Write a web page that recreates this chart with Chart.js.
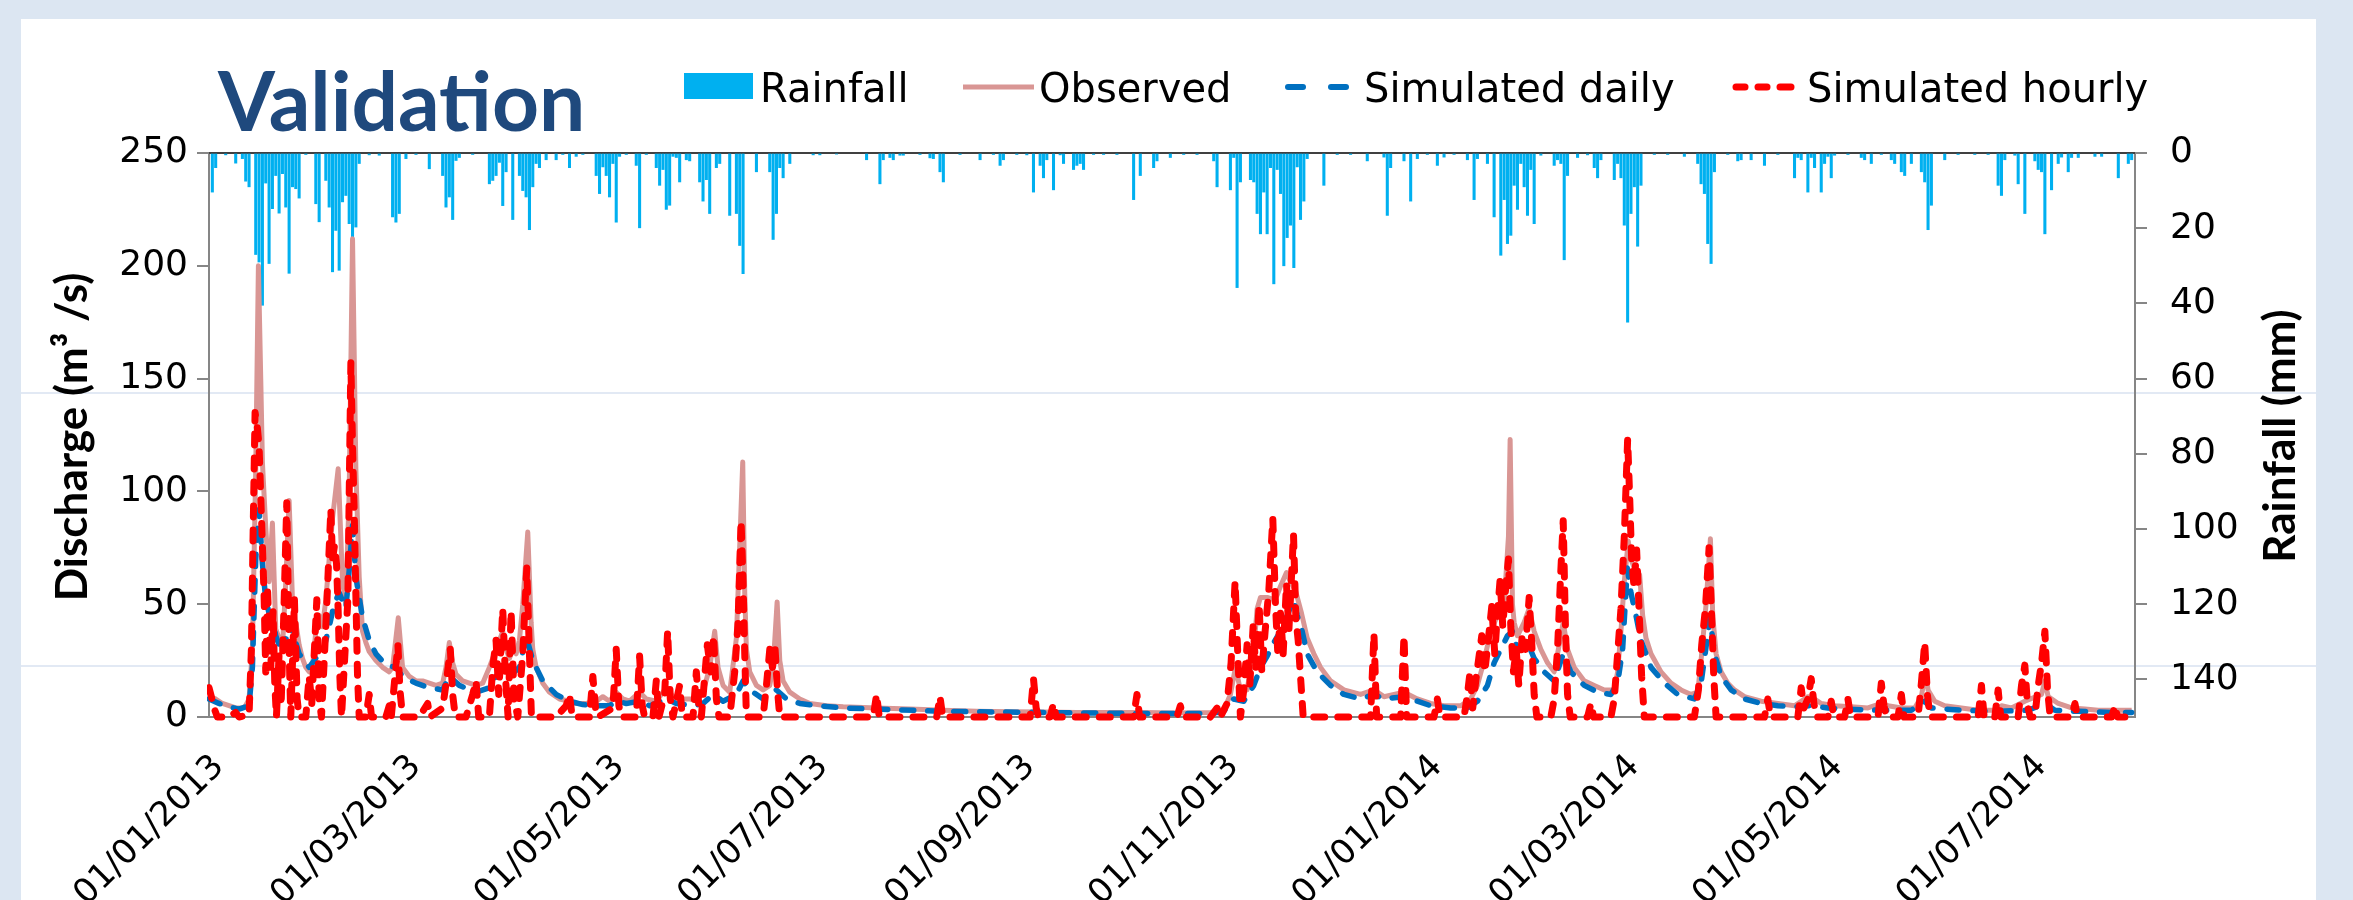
<!DOCTYPE html>
<html>
<head>
<meta charset="utf-8">
<script src="https://cdn.jsdelivr.net/npm/chart.js@4.4.1/dist/chart.umd.min.js"></script>
<style>
html,body{margin:0;padding:0;background:#dce6f2;overflow:hidden;}
#wrap{position:absolute;left:0;top:0;width:2353px;height:900px;}
</style>
</head>
<body>
<div id="wrap"><canvas id="c" width="2353" height="900"></canvas></div>
<script>
// ---------- DATA (day index from 01/01/2013) ----------
const chartTitle = 'Validation';
const seriesLabels = ['Rainfall', 'Observed', 'Simulated daily', 'Simulated hourly'];
const leftAxisTitle = 'Discharge (m\u00B3 /s)';
const rightAxisTitle = 'Rainfall (mm)';
const xTickDays = [0, 59, 120, 181, 243, 304, 365, 424, 485, 546];
const xTickLabels = ['01/01/2013','01/03/2013','01/05/2013','01/07/2013','01/09/2013','01/11/2013','01/01/2014','01/03/2014','01/05/2014','01/07/2014'];
const leftTicks = [0, 50, 100, 150, 200, 250];
const rightTicks = [0, 20, 40, 60, 80, 100, 120, 140];
const xMaxDay = 577;

// daily rainfall [day, mm]
const rainfall = [
[1,10.4],[2,3.9],[5,0.5],[8,2.7],[10,1.5],[11,7.5],[12,9],[14,27],[15,29],[16,40.5],[17,8],[18,29.4],[19,14.8],[20,6],[21,16],[22,5.5],[23,14.4],[24,32],[25,9],[26,9.5],[27,12],[29,0.4],
[32,13.5],[33,18.3],[35,7.3],[36,14.4],[37,31.6],[38,20.6],[39,31.2],[40,13],[41,11.3],[42,18.8],[43,22.3],[44,19.7],[45,2.8],[48,0.5],[51,0.6],
[55,17],[56,18.4],[57,16.1],[59,1.5],[62,0.4],[66,4.2],[70,6],[71,14.4],[72,11.7],[73,17.7],[74,2],[75,1.2],[79,0.4],
[84,8.2],[85,7.3],[86,6],[87,2.5],[88,14],[89,5],[91,17.7],[93,6],[94,10],[95,11.7],[96,20.4],
[97,9],[98,2.8],[99,3.9],[101,1.8],[104,1.8],[106,0.4],[108,3.9],[110,0.9],[112,0.4],[116,6],[117,10.8],[118,3.7],[119,6],[120,11.7],[121,2.8],[122,18.4],[123,0.9],[125,0.4],[128,3.3],[129,19.9],[131,0.4],[134,3.9],[135,8.6],[136,4.4],[137,15],[138,13.9],[139,0.9],[140,1.2],[141,7.7],[143,1.8],[144,2.1],[147,7.7],[148,12.8],[149,7.1],[150,16.1],[152,3.9],[153,2.8],[156,16.6],[158,16.1],[159,24.6],[160,32.1],[164,5],[168,5],[169,23],[170,16.1],[171,3.9],[172,6.6],[174,2.8],[181,0.5],[183,0.5],[188,0.3],
[197,1.8],[201,8.2],[202,1.8],[204,1.2],[205,1.8],[207,0.6],[208,0.6],[213,0.4],[216,1.3],[217,1.5],[219,5],[220,7.7],[225,0.4],[231,1.8],[235,0.4],[237,3.3],[238,1.8],[242,0.4],[245,0.5],[247,10.4],[249,3.3],[250,6.6],[251,1.8],[253,9.8],[255,0.5],[256,2.8],[259,4.4],[260,3.3],[261,2.8],[262,4.4],[265,0.4],[268,0.4],[272,0.4],[277,12.4],[279,6],[283,3.9],[284,2.1],[288,1.2],[292,0.4],[296,0.4],
[301,2.1],[302,9],[306,9.8],[307,1.2],[308,35.8],[309,7.7],[312,7.1],[313,7.7],[314,16.1],[315,21.5],[316,10.4],[317,21.5],[318,3.9],[319,34.8],[320,4.4],[321,10.8],[322,30],[323,22.5],[324,19.2],[325,30.5],[326,3.7],[327,17.7],[328,12.8],[329,1.5],[334,8.6],[338,0.4],[342,0.4],[347,2.1],[352,1.1],[353,16.6],[354,3.9],[358,2.1],[360,12.8],[362,1.5],[365,0.4],[368,3.3],[370,1.1],[373,0.4],[377,1.8],[379,12.4],[380,1.5],[383,2.8],
[385,17],[387,27.2],[388,12.4],[389,24.1],[390,21.9],[391,8.6],[392,15],[393,2.8],[394,9],[395,16.6],[396,4.4],[397,18.8],[399,0.6],[403,3.3],[404,1.8],[405,2.8],[406,28.4],[407,6],[410,1.2],[413,0.5],[415,3.9],[416,6.6],[417,1.8],[421,7.1],[422,2.8],[423,6.6],[424,19.2],[425,45],[426,16.1],[427,9],[428,24.8],[429,8.6],[433,0.4],[437,0.4],[442,0.9],[446,2.8],[447,8.2],[448,10.8],[449,24.1],[450,29.4],[451,5],[455,0.4],[458,2.1],[459,1.8],[462,1.8],[466,3.3],[470,0.4],[475,6.6],[476,1.2],[477,1.8],[479,10.4],
[480,1.2],[481,3.9],[483,10.4],[484,2.8],[485,0.9],[486,6.6],[487,0.6],[491,0.4],[495,1.2],[496,1.8],[498,2.8],[501,0.4],[504,1.8],[505,2.8],[507,5],[508,6],[510,2.8],[513,5],[514,7.7],[515,20.4],[516,13.9],[520,1.8],[524,0.4],[529,0.4],[533,0.4],[536,8.6],[537,11.3],[538,1.8],[541,0.6],[542,8.2],[544,16.1],[547,2.1],[548,4.4],[549,5],[550,21.5],[552,9.8],[554,2.8],[555,1.1],[557,5],[558,1.2],[560,1.2],[565,0.9],[567,0.9],[572,6.6],[575,2.8],[576,1.8]
];

// observed discharge [day, m3/s]
const observed = [
[0,9],[2,8],[4,6],[6,5],[8,4],[10,4],[11,5],[12,8],[13,30],[14,110],[14.8,200],[15.5,150],[16,113],[17,84],[18,60],[19,86],[20,39],[21,35],[22,30],[23,60],[24,96],[25,52],[26,42],[27,32],[28,26],[29,22],[30,20],[31,22],[32,38],[33,45],[34,40],[35,52],[36,70],[37,88],[38.7,110],[40,60],[41,50],[42,100],[43,212],[44,110],[45,62],[46,38],[47,33],[48,29],[50,25],[52,22],[54,20],[55,22],[56.7,44],[58,22],[60,18],[62,16],[64,16],[66,15],[68,14],[70,15],[71,22],[72,33],[73,24],[74,19],[76,16],[78,15],[80,14],[82,15],[84,22],[86,30],[88,38],[89,30],[90,26],[91,30],[92,28],[93,34],[94,50],[95.5,82],[96.5,42],[97,30],[98,22],[100,15],[102,11],[105,8],[108,7],[110,6],[113,6],[116,7],[118,9],[120,7],[122,11],[124,8],[126,7],[129,11],[131,8],[134,7],[137,13],[139,9],[141,8],[144,8],[146,7],[148,11],[150,22],[151.5,38],[152.5,22],[154,14],[156,11],[158,35],[159.9,113],[160.5,55],[161,30],[162,20],[164,14],[166,12],[168,14],[169,22],[170.2,51],[171,25],[172,16],[174,11],[177,8],[180,6],[185,5],[190,4.5],[200,4],[210,3.5],[220,3],[230,2.6],[240,2.3],[250,2.2],[260,2],[270,2],[280,2],[290,1.8],[300,2],[304,3],[306,10],[307.5,22],[309,12],[311,12],[313,30],[314,48],[315,53],[317,53],[319,52],[320,54],[321,58],[322.8,64],[324,60],[325.5,56],[327.3,46],[329,35],[331,28],[333,22],[336,16],[340,12],[345,10],[349,12],[352,9],[358,11],[362,8],[366,6],[370,5],[375,5],[378,8],[380,14],[382,25],[384,38],[386,45],[388,50],[389.3,80],[389.8,123],[390.5,50],[391,42],[392,36],[394,42],[395.5,48],[397,38],[399,30],[401,24],[403,20],[404.5,32],[405.7,42],[407,30],[409,22],[412,16],[415,14],[418,12],[421,12],[422,20],[423,38],[424,60],[425.2,78],[426,70],[427,66],[428.6,63],[429.5,45],[430.5,35],[432,28],[435,20],[438,15],[441,12],[444,10],[446,11],[447,25],[448.5,50],[449.8,79],[450.5,45],[451.5,28],[453,20],[455,15],[457,12],[460,9],[465,7],[470,6],[475,5],[477,7],[479,9],[481,8],[483,6],[487,5],[492,4.5],[497,4],[501,6],[503,5],[507,4],[511,4],[513,9],[514.2,20],[515,12],[517,7],[520,5],[525,4],[530,3],[535,3],[537,5],[540,4],[544,7],[549,10],[550,16],[551,9],[554,6],[558,4],[562,3.5],[566,3],[571,3],[576,3]
];

// simulated daily discharge [day, m3/s]
const simDaily = [
[0,8],[3,6],[6,4.5],[9,3.5],[12,5],[13,22],[14,70],[15,92],[16,68],[17,52],[18,46],[19,44],[20,36],[22,28],[23,34],[24,42],[25,38],[27,28],[30,22],[32,26],[34,28],[36,40],[37.5,50],[39,55],[41,48],[42,65],[43,85],[44,62],[46,44],[48,34],[50,28],[53,23],[56,22],[58,18],[62,15],[66,13],[70,12],[72,18],[75,14],[80,11],[84,13],[86,18],[88,22],[90,18],[93,22],[95,36],[97,25],[100,16],[104,10],[108,7],[112,5.5],[116,5],[120,5],[122,7],[125,6],[129,7],[132,5],[137,8],[140,6],[145,5],[148,6],[151,10],[154,7],[158,10],[160,16],[162,12],[166,8],[170,12],[173,8],[177,6],[182,5],[190,4],[200,3.5],[220,2.5],[250,2],[280,1.5],[300,1.5],[304,2.5],[307,8],[310,7],[313,14],[315,22],[317,27],[319,33],[321,38],[323,45],[324.9,52],[326,45],[327.5,38],[329,28],[332,20],[336,14],[340,10],[345,8],[349,10],[352,8],[358,9],[362,7],[366,5],[372,4],[377,4],[380,7],[383,14],[385,24],[387,30],[389,36],[390.5,38],[392,30],[395,33],[397,26],[400,20],[403,16],[405.7,28],[408,20],[412,14],[416,11],[420,10],[422,15],[423.5,30],[424.9,66],[426,55],[427.5,45],[429,34],[432,22],[436,15],[440,10],[445,8],[447,15],[449.7,44],[451,28],[453,18],[456,12],[460,8],[465,6],[470,5],[475,4.5],[480,5],[485,4],[490,3.5],[500,3],[510,3],[514,7],[516,4],[525,3],[535,2.5],[545,3],[550,6],[553,3],[560,2.5],[570,2],[576,2]
];

// simulated hourly discharge [day, m3/s]
const simHourly = [
[0,13],[0.7,9],[1.5,4],[2.5,0],[6,0],[8,2],[9,0],[12,1],[12.7,30],[13.2,80],[13.8,135],[14.5,128],[15,120],[15.5,98],[16,76],[16.5,54],[17,20],[17.5,58],[18,38],[18.5,22],[19.2,47],[19.7,15],[20.2,0],[21,28],[21.6,5],[22.3,40],[23.3,95],[24,30],[24.5,0],[25.6,52],[26.4,8],[27,0],[29,0],[30,18],[30.8,6],[32.3,52],[33,8],[33.7,0],[35,40],[36.5,92],[37,70],[37.6,76],[38.2,68],[38.7,47],[39.2,18],[39.7,0],[40.5,22],[41.6,52],[42.5,157],[43,120],[43.5,91],[44,54],[44.5,18],[45,0],[47,0],[48,10],[48.7,0],[53,0],[54,5],[54.6,0],[56.6,32],[57.2,12],[58,0],[63,0],[65.5,6],[66.2,0],[70,4],[71.3,18],[72.3,30],[73,10],[73.8,0],[77,0],[79,10],[80,16],[80.8,0],[84,0],[85,22],[86,34],[86.8,10],[88,48],[88.8,18],[89.6,0],[90.5,47],[91.4,8],[92.5,0],[94,28],[95.2,66],[96,28],[96.6,0],[104,0],[107,5],[108,10],[108.8,0],[114,0],[115,18],[115.8,4],[116.5,0],[121,4],[122,30],[122.8,5],[123.5,0],[128,0],[129,27],[129.8,5],[130.5,0],[133,0],[134,16],[134.8,0],[136.5,10],[137.4,38],[138.2,8],[139,0],[141,14],[141.8,0],[145,0],[146,20],[146.8,4],[147.5,0],[149.3,32],[150.3,20],[151.2,36],[152,8],[152.8,0],[156,0],[157.5,20],[158.5,42],[159.4,87],[160,60],[160.5,28],[161,0],[166,0],[167,14],[168,30],[168.8,22],[169.6,30],[170.3,12],[171,0],[180,0],[199,0],[200,10],[200.8,0],[218,0],[219,9],[219.8,0],[246,0],[247,17],[247.8,4],[248.5,0],[252,0],[253,6],[253.8,0],[277,0],[278,10],[278.8,0],[290,0],[291,5],[291.8,0],[300,0],[302,4],[303,0],[305,6],[306.2,24],[307.4,60],[308.2,28],[309,0],[310,12],[311,32],[311.8,14],[312.8,40],[313.6,22],[314.6,50],[315.4,20],[316.4,38],[317.5,56],[318.7,88],[319.5,50],[320.2,28],[321,46],[321.8,28],[322.8,59],[323.5,38],[324.1,56],[324.9,81],[325.6,44],[326.3,34],[327,18],[327.8,0],[332,0],[348,0],[349,37],[349.8,0],[357,0],[358,36],[358.8,0],[367,0],[368,8],[368.8,0],[376,0],[377,10],[377.8,20],[378.6,4],[379.5,16],[380.4,26],[381.3,36],[382.2,20],[383.1,32],[384.3,49],[385.2,28],[386,46],[386.8,61],[387.6,40],[388.4,56],[389.3,70],[390,40],[390.8,20],[391.6,30],[392.4,14],[393.4,36],[394.4,30],[395.5,53],[396.3,32],[397,10],[397.8,0],[402,0],[403,8],[404,30],[404.9,62],[405.7,87],[406.4,38],[407,10],[407.8,0],[413,0],[414,6],[414.8,0],[420,0],[421,8],[422,28],[423,48],[424,80],[425,123],[425.6,98],[426.2,70],[426.9,58],[427.7,74],[428.5,45],[429.2,18],[430,0],[437,0],[445,0],[446.2,12],[447.2,32],[448.3,48],[449.4,75],[450.1,48],[450.8,18],[451.5,0],[458,0],[466,0],[467,8],[467.8,0],[476,0],[477,13],[477.8,4],[479,8],[480,17],[480.8,6],[481.6,0],[485,0],[486,7],[486.8,0],[490,0],[491,8],[491.8,0],[500,0],[501,15],[501.8,5],[502.6,0],[506,0],[507,10],[507.8,0],[512,0],[513,15],[514,33],[514.8,10],[515.6,0],[530,0],[531,14],[531.8,0],[535,0],[536,12],[536.8,0],[542,0],[543,14],[544,23],[544.8,5],[545.6,0],[547,0],[548,14],[549,24],[550,38],[550.8,12],[551.6,0],[558,0],[559,6],[559.8,0],[570,0],[571,5],[571.8,0],[576.5,0]
];

// ---------- STYLE ----------
const C_RAIN = '#00b0f0', C_OBS = '#d99694', C_DAILY = '#0070c0', C_HOURLY = '#ff0000';
const AXIS_GREY = '#868686';
const toXY = arr => arr.map(p => ({x: p[0], y: p[1]}));

const decor = {
  id: 'decor',
  beforeDraw(chart) {
    const ctx = chart.ctx;
    ctx.save();
    ctx.fillStyle = '#dce6f2';
    ctx.fillRect(0, 0, chart.width, chart.height);
    ctx.fillStyle = '#ffffff';
    ctx.fillRect(21, 19, 2295, 900);
    ctx.strokeStyle = '#e2e9f4';
    ctx.lineWidth = 2;
    [393, 666].forEach(y => { ctx.beginPath(); ctx.moveTo(21, y); ctx.lineTo(2316, y); ctx.stroke(); });
    ctx.restore();
  },
  beforeDatasetsDraw(chart) {
    const {ctx, chartArea} = chart;
    ctx.save();
    ctx.strokeStyle = '#404040';
    ctx.lineWidth = 2;
    ctx.beginPath();
    ctx.moveTo(chartArea.left, chartArea.top);
    ctx.lineTo(chartArea.right, chartArea.top);
    ctx.stroke();
    ctx.restore();
  },
  afterDraw(chart) {
    const ctx = chart.ctx;
    const ds = chart.data.datasets;
    ctx.save();
    // title
    ctx.fillStyle = '#1f497d';
    ctx.font = 'bold 82px Lato';
    ctx.textBaseline = 'alphabetic';
    ctx.textAlign = 'left';
    ctx.fillText(chartTitle, 218, 131);
    // legend
    const ly = 87;
    ctx.fillStyle = C_RAIN;
    ctx.fillRect(684, 73, 69, 26);
    ctx.lineCap = 'butt';
    ctx.strokeStyle = C_OBS; ctx.lineWidth = 5;
    ctx.beginPath(); ctx.moveTo(963, ly); ctx.lineTo(1034, ly); ctx.stroke();
    ctx.lineCap = 'round';
    ctx.strokeStyle = C_DAILY; ctx.lineWidth = 6;
    [[1288,1303],[1331,1346]].forEach(s => { ctx.beginPath(); ctx.moveTo(s[0], ly); ctx.lineTo(s[1], ly); ctx.stroke(); });
    ctx.strokeStyle = C_HOURLY; ctx.lineWidth = 7;
    [[1736,1745],[1758,1767],[1780,1791]].forEach(s => { ctx.beginPath(); ctx.moveTo(s[0], ly); ctx.lineTo(s[1], ly); ctx.stroke(); });
    ctx.fillStyle = '#000000';
    ctx.font = '40px "DejaVu Sans"';
    ctx.fillText(ds[0].label, 760, 102);
    ctx.fillText(ds[1].label, 1039, 102);
    ctx.fillText(ds[2].label, 1364, 102);
    ctx.fillText(ds[3].label, 1807, 102);
    // axis titles
    ctx.font = 'bold 44px Lato';
    ctx.textAlign = 'center';
    ctx.save(); ctx.translate(87, 437); ctx.rotate(-Math.PI / 2); ctx.fillText(leftAxisTitle, 0, 0); ctx.restore();
    ctx.save(); ctx.translate(2295, 436); ctx.rotate(-Math.PI / 2); ctx.fillText(rightAxisTitle, 0, 0); ctx.restore();
    ctx.restore();
  }
};

const tickFont = {family: 'DejaVu Sans', size: 36};

new Chart(document.getElementById('c'), {
  type: 'line',
  data: {
    datasets: [
      {type: 'bar', label: seriesLabels[0], data: toXY(rainfall), yAxisID: 'y2', xAxisID: 'x',
       backgroundColor: C_RAIN, borderWidth: 0, barThickness: 2.4, grouped: false, order: 4},
      {type: 'line', label: seriesLabels[1], data: toXY(observed), yAxisID: 'y', borderColor: C_OBS,
       borderWidth: 5, pointRadius: 0, tension: 0, fill: false, order: 3, borderJoinStyle: 'round', clip: {left: 2, right: 4, top: 0, bottom: 8}},
      {type: 'line', label: seriesLabels[2], data: toXY(simDaily), yAxisID: 'y', borderColor: C_DAILY,
       borderWidth: 5.5, borderDash: [12, 14], borderCapStyle: 'round', borderJoinStyle: 'round', pointRadius: 0, tension: 0, fill: false, order: 2, clip: {left: 2, right: 4, top: 0, bottom: 8}},
      {type: 'line', label: seriesLabels[3], data: toXY(simHourly), yAxisID: 'y', borderColor: C_HOURLY,
       borderWidth: 7, borderDash: [11, 13], borderCapStyle: 'round', borderJoinStyle: 'round', pointRadius: 0, tension: 0, fill: false, order: 1, clip: {left: 2, right: 4, top: 0, bottom: 8}}
    ]
  },
  options: {
    responsive: false,
    animation: false,
    devicePixelRatio: 1,
    layout: {padding: {top: 153, left: 0, right: 0, bottom: 0}},
    plugins: {legend: {display: false}, title: {display: false}, tooltip: {enabled: false}},
    scales: {
      x: {
        type: 'linear', min: 0, max: xMaxDay, offset: false,
        grid: {display: true, offset: false, drawOnChartArea: false, drawTicks: false, color: 'rgba(0,0,0,0)'},
        border: {display: true, color: AXIS_GREY, width: 2},
        afterBuildTicks: s => { s.ticks = xTickDays.map(v => ({value: v})); },
        ticks: {autoSkip: false, maxRotation: 45, minRotation: 45, padding: 30, labelOffset: 10, color: '#000', font: {family: 'DejaVu Sans', size: 34},
                callback: v => { const i = xTickDays.indexOf(v); return i >= 0 ? xTickLabels[i] : ''; }},
        afterFit: s => { s.height = 183; }
      },
      y: {
        position: 'left', min: 0, max: 250,
        afterBuildTicks: s => { s.ticks = leftTicks.map(v => ({value: v})); },
        ticks: {autoSkip: false, padding: 9, color: '#000', font: tickFont},
        grid: {drawOnChartArea: false, drawTicks: true, tickLength: 12, color: AXIS_GREY, lineWidth: 2},
        border: {display: true, color: AXIS_GREY, width: 2},
        afterFit: s => { s.width = 209; }
      },
      y2: {
        position: 'right', reverse: true, min: 0, max: 150,
        afterBuildTicks: s => { s.ticks = rightTicks.map(v => ({value: v})); },
        ticks: {autoSkip: false, padding: 23, color: '#000', font: tickFont},
        grid: {drawOnChartArea: false, drawTicks: true, tickLength: 12, color: AXIS_GREY, lineWidth: 2},
        border: {display: true, color: AXIS_GREY, width: 2},
        afterFit: s => { s.width = 218; }
      }
    }
  },
  plugins: [decor]
});
</script>
</body>
</html>
